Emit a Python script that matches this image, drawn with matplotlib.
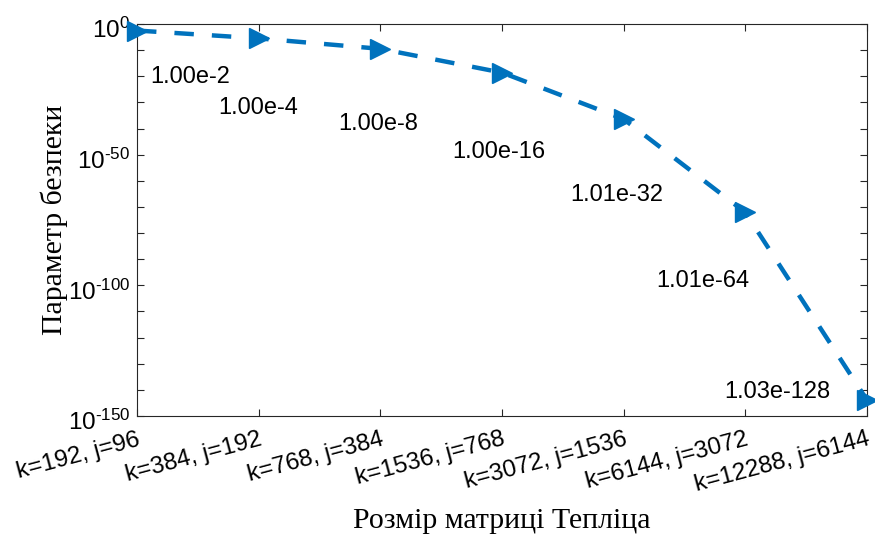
import numpy as np
import matplotlib
matplotlib.use("Agg")
import matplotlib.pyplot as plt
import matplotlib.transforms as mtrans
from matplotlib.ticker import FixedLocator, FuncFormatter, NullLocator

# ---- data ----
categories = ["k=192, j=96", "k=384, j=192", "k=768, j=384", "k=1536, j=768",
              "k=3072, j=1536", "k=6144, j=3072", "k=12288, j=6144"]
# plotted values
values = [10**-2.5, 10**-5.5, 10**-9.5, 10**-18.6, 10**-36.4, 10**-72.1, 10**-143.9]
value_labels = ["1.00e-2", "1.00e-4", "1.00e-8", "1.00e-16", "1.01e-32", "1.01e-64", "1.03e-128"]
# annotation anchors (data coordinates)
label_x = [1.107, 1.666, 2.652, 3.589, 4.559, 5.266, 5.83]
label_y = [10**-20.1, 10**-32.1, 10**-38.1, 10**-48.8, 10**-65.4, 10**-98.2, 10**-140.8]
ytick_exps = list(range(0, -151, -10))

plt.rcParams['mathtext.fontset'] = 'custom'
plt.rcParams['mathtext.rm'] = 'Liberation Sans'
plt.rcParams['mathtext.it'] = 'Liberation Sans'
plt.rcParams['mathtext.bf'] = 'Liberation Sans'
plt.rcParams['lines.scale_dashes'] = False
plt.rcParams['axes.unicode_minus'] = False

fig = plt.figure(figsize=(8.75, 5.38), dpi=100)
ax = fig.add_axes([137/875, 1-416/538, (867-137)/875, (416-24)/538])

color = '#0072BD'
x = np.arange(1, len(categories) + 1)
line, = ax.semilogy(x, values, color=color, linestyle=(0, (14, 13)), linewidth=3.2,
                    marker='>', markersize=14, markerfacecolor=color, markeredgecolor=color,
                    clip_on=False, zorder=3)

for lx, ly, t in zip(label_x, label_y, value_labels):
    ax.text(lx, ly, t, ha='left', va='center', fontsize=17,
            family='Liberation Sans', color='black')

ax.set_xlim(1, len(categories))
ax.set_ylim(1e-150, 1e0)

ax.yaxis.set_major_locator(FixedLocator([10.0**e for e in ytick_exps]))
ax.yaxis.set_minor_locator(NullLocator())

def yfmt(v, pos):
    e = int(round(np.log10(v)))
    if e % 50 == 0:
        return r'$10^{\text{%d}}$' % e
    return ''
ax.yaxis.set_major_formatter(FuncFormatter(yfmt))

ax.set_xticks(x)
ax.set_xticklabels(categories, rotation=15, ha='right', va='top',
                   rotation_mode='anchor', family='Liberation Sans', fontsize=17.5)

ax.tick_params(axis='both', which='both', direction='in', top=True, right=True,
               length=5, width=0.8, color='#262626', pad=5)
ax.tick_params(axis='x', pad=9)
for s in ax.spines.values():
    s.set_color('#262626')
    s.set_linewidth(0.8)

offset = mtrans.ScaledTranslation(0, -4/100, fig.dpi_scale_trans)
for lbl in ax.get_yticklabels():
    lbl.set_family('Liberation Sans')
    lbl.set_fontsize(17.5)
    lbl.set_transform(lbl.get_transform() + offset)

ax.set_ylabel('Параметр безпеки', family='Liberation Serif', fontsize=21.5, labelpad=0)
ax.set_xlabel('Розмір матриці Тепліца', family='Liberation Serif', fontsize=21.5, labelpad=8)

fig.savefig('out.png', dpi=100)
